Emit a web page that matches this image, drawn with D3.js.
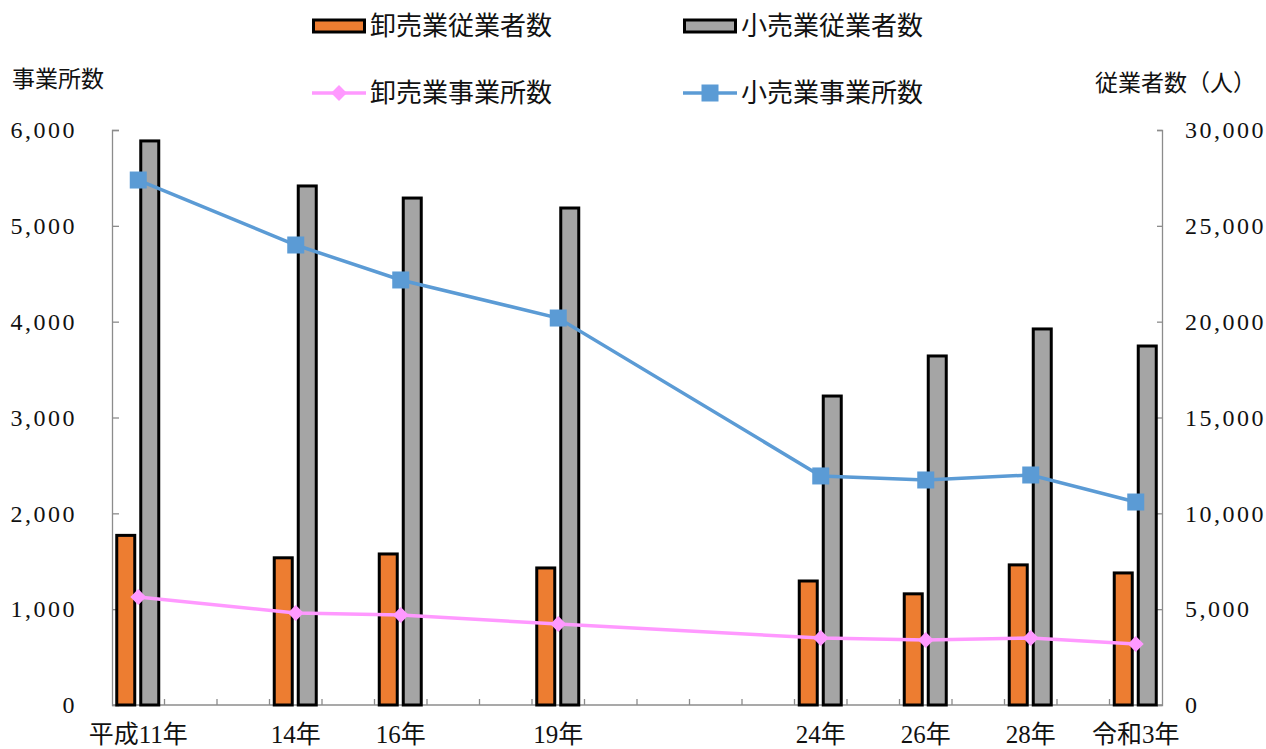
<!DOCTYPE html>
<html>
<head>
<meta charset="utf-8">
<script src="https://cdn.jsdelivr.net/npm/d3@7"></script>
<style>
  body { margin: 0; background: #fff; }
  text { font-family: "Liberation Serif", "Noto Sans CJK JP", serif; fill: #111; }
  .jp { font-family: "Noto Sans CJK JP", sans-serif; }
</style>
</head>
<body>
<svg></svg>
<script>
const width = 1266;
const height = 749;
const margin = { top: 130, right: 104, bottom: 44, left: 112 };

// DATA
const slots = ['平成11年', '12年', '13年', '14年', '15年', '16年', '17年', '18年', '19年', '20年',
               '21年', '22年', '23年', '24年', '25年', '26年', '27年', '28年', '29年', '令和3年'];
const years = ['平成11年', '14年', '16年', '19年', '24年', '26年', '28年', '令和3年'];
const wholesaleEmployees = [8850, 7680, 7880, 7150, 6470, 5800, 7310, 6890];
const retailEmployees = [29430, 27080, 26450, 25930, 16120, 18210, 19620, 18730];
const wholesaleOffices = [1127, 960, 939, 845, 699, 678, 699, 637];
const retailOffices = [5478, 4800, 4435, 4038, 2390, 2348, 2400, 2118];
const leftTicks = [0, 1000, 2000, 3000, 4000, 5000, 6000];
const rightTicks = [0, 5000, 10000, 15000, 20000, 25000, 30000];

const data = years.map((y, i) => ({
    year: y,
    wEmp: wholesaleEmployees[i],
    rEmp: retailEmployees[i],
    wOff: wholesaleOffices[i],
    rOff: retailOffices[i]
}));

// SCALES
const xScale = d3.scaleBand()
                 .domain(slots)
                 .range([margin.left, width - margin.right]);
const yLeft = d3.scaleLinear()
                .domain([0, 6000])
                .range([height - margin.bottom, margin.top]);
const yRight = d3.scaleLinear()
                 .domain([0, 30000])
                 .range([height - margin.bottom, margin.top]);
const cx = d => xScale(d.year) + xScale.bandwidth() / 2;

const svg = d3.select('svg')
              .attr('width', width)
              .attr('height', height);

const axisColor = '#8c8c8c';

// AXES
const xAxis = svg.append('g')
    .attr('transform', `translate(0, ${height - margin.bottom})`);
xAxis.append('line')
    .attr('x1', margin.left).attr('x2', width - margin.right)
    .attr('stroke', axisColor).attr('stroke-width', 1.3);
xAxis.selectAll('.tk')
    .data(slots.slice(1))
    .enter()
    .append('line')
        .attr('x1', d => xScale(d)).attr('x2', d => xScale(d))
        .attr('y1', 0).attr('y2', -6)
        .attr('stroke', axisColor).attr('stroke-width', 1.3);
xAxis.selectAll('.lbl')
    .data(years)
    .enter()
    .append('text')
        .attr('x', d => xScale(d) + xScale.bandwidth() / 2)
        .attr('y', 38)
        .style('text-anchor', 'middle')
        .style('font-size', '25px')
        .text(d => d);

const fmt = d3.format(',');

const leftAxis = d3.axisLeft(yLeft)
    .tickValues(leftTicks)
    .tickSize(-7)
    .tickPadding(35)
    .tickFormat(fmt);
const gl = svg.append('g')
    .attr('transform', `translate(${margin.left}, 0)`)
    .call(leftAxis);

const rightAxis = d3.axisRight(yRight)
    .tickValues(rightTicks)
    .tickSize(-5)
    .tickPadding(23)
    .tickFormat(fmt);
const gr = svg.append('g')
    .attr('transform', `translate(${width - margin.right}, 0)`)
    .call(rightAxis);

[gl, gr].forEach(g => {
    g.select('.domain').attr('stroke', axisColor).attr('stroke-width', 1.3);
    g.selectAll('.tick line').attr('stroke', axisColor).attr('stroke-width', 1.3);
    g.selectAll('.tick text')
        .style('font-family', '"Liberation Serif", serif')
        .style('font-size', '24px')
        .style('letter-spacing', '2.5px')
        .attr('fill', '#111');
});

// BARS
const barW = 18;
svg.selectAll('.wbar')
    .data(data)
    .enter()
    .append('rect')
        .attr('x', d => cx(d) - 21.5)
        .attr('y', d => yRight(d.wEmp))
        .attr('width', barW)
        .attr('height', d => yRight(0) - yRight(d.wEmp))
        .attr('fill', '#ed7d31')
        .attr('stroke', '#000')
        .attr('stroke-width', 3);

svg.selectAll('.rbar')
    .data(data)
    .enter()
    .append('rect')
        .attr('x', d => cx(d) + 2.5)
        .attr('y', d => yRight(d.rEmp))
        .attr('width', barW)
        .attr('height', d => yRight(0) - yRight(d.rEmp))
        .attr('fill', '#a5a5a5')
        .attr('stroke', '#000')
        .attr('stroke-width', 3);

// LINES
const pink = '#ff99ff';
const blue = '#5b9bd5';

svg.append('path')
    .datum(data)
    .attr('fill', 'none')
    .attr('stroke', pink)
    .attr('stroke-width', 3.5)
    .attr('d', d3.line().x(cx).y(d => yLeft(d.wOff)));

svg.append('path')
    .datum(data)
    .attr('fill', 'none')
    .attr('stroke', blue)
    .attr('stroke-width', 3.5)
    .attr('d', d3.line().x(cx).y(d => yLeft(d.rOff)));

const diamond = d3.symbol().type(d3.symbolDiamond2).size(160);
svg.selectAll('.dm')
    .data(data)
    .enter()
    .append('path')
        .attr('transform', d => `translate(${cx(d)}, ${yLeft(d.wOff)})`)
        .attr('d', diamond)
        .attr('fill', pink);

svg.selectAll('.sq')
    .data(data)
    .enter()
    .append('rect')
        .attr('x', d => cx(d) - 8.5)
        .attr('y', d => yLeft(d.rOff) - 8.5)
        .attr('width', 17)
        .attr('height', 17)
        .attr('fill', blue);

// AXIS TITLES
svg.append('text')
    .attr('class', 'jp')
    .attr('x', 12)
    .attr('y', 87)
    .style('font-size', '23px')
    .text('事業所数');

svg.append('text')
    .attr('class', 'jp')
    .attr('x', 1256)
    .attr('y', 91)
    .style('text-anchor', 'end')
    .style('font-size', '23px')
    .text('従業者数（人）');

// LEGEND
const legend = [
    { label: '卸売業従業者数', type: 'bar', color: '#ed7d31', x: 312, y: 26 },
    { label: '小売業従業者数', type: 'bar', color: '#a5a5a5', x: 683, y: 26 },
    { label: '卸売業事業所数', type: 'diamond', color: pink, x: 312, y: 93 },
    { label: '小売業事業所数', type: 'square', color: blue, x: 683, y: 93 }
];
const lg = svg.selectAll('.lg')
    .data(legend)
    .enter()
    .append('g')
        .attr('transform', d => `translate(${d.x}, ${d.y})`);

lg.filter(d => d.type === 'bar')
    .append('rect')
        .attr('x', 1.5).attr('y', -6)
        .attr('width', 51).attr('height', 12)
        .attr('fill', d => d.color)
        .attr('stroke', '#000')
        .attr('stroke-width', 3);

lg.filter(d => d.type !== 'bar')
    .append('line')
        .attr('x1', 0).attr('x2', 54)
        .attr('stroke', d => d.color)
        .attr('stroke-width', 3.5);

lg.filter(d => d.type === 'diamond')
    .append('path')
        .attr('transform', 'translate(27, 0)')
        .attr('d', diamond)
        .attr('fill', d => d.color);

lg.filter(d => d.type === 'square')
    .append('rect')
        .attr('x', 18.5).attr('y', -8.5)
        .attr('width', 17).attr('height', 17)
        .attr('fill', d => d.color);

lg.append('text')
    .attr('class', 'jp')
    .attr('x', 58)
    .attr('dy', '0.36em')
    .style('font-size', '26px')
    .text(d => d.label);
</script>
</body>
</html>
